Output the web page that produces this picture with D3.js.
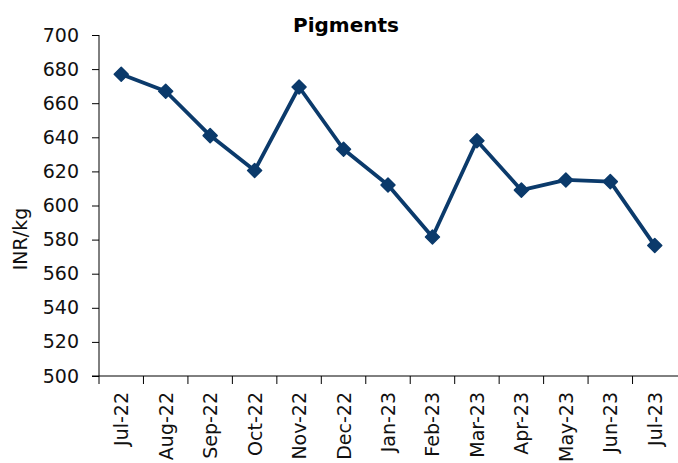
<!DOCTYPE html>
<html><head><meta charset="utf-8">
<script src="https://cdn.jsdelivr.net/npm/d3@7"></script>
<style>html,body{margin:0;padding:0;background:#fff;}svg{display:block;}</style>
</head><body>
<script>
const categories = ["Jul-22","Aug-22","Sep-22","Oct-22","Nov-22","Dec-22","Jan-23","Feb-23","Mar-23","Apr-23","May-23","Jun-23","Jul-23"];
const values = [677, 667, 641, 620.5, 669.5, 633, 612, 581.5, 638, 609, 615, 614, 576.5];
const yTicks = [500,520,540,560,580,600,620,640,660,680,700];
const title = "Pigments";
const yLabel = "INR/kg";

const W = 678, H = 463;
const m = {left: 99, right: 1, top: 35, bottom: 87};
const font = "'DejaVu Sans', sans-serif";
const color = "#0b3a6b";

const svg = d3.select("body").append("svg").attr("width", W).attr("height", H);

const x = d3.scaleBand().domain(categories).range([m.left, W - m.right]);
const y = d3.scaleLinear().domain([500, 700]).range([H - m.bottom, m.top]);

// y axis
const ya = svg.append("g").attr("transform", `translate(${m.left},0)`)
  .call(d3.axisLeft(y).tickValues(yTicks).tickSize(7).tickPadding(13));
ya.selectAll("path,line").attr("stroke", "#000").attr("stroke-width", 1);
ya.select(".domain").attr("d", `M0,${y(700)}V${y(500)}`);
ya.selectAll("text").attr("font-family", font).attr("font-size", 19).attr("fill", "#111");

// x axis with ticks at band boundaries
const xa = svg.append("g").attr("transform", `translate(0,${y(500)})`);
xa.append("line").attr("x1", m.left - 7).attr("x2", W).attr("y1", 0).attr("y2", 0).attr("stroke", "#000");
const bounds = categories.map(c => x(c));
xa.selectAll("line.tk").data(bounds).enter().append("line").attr("class","tk")
  .attr("x1", d => d).attr("x2", d => d).attr("y1", 0).attr("y2", 8).attr("stroke", "#000");
xa.selectAll("text").data(categories).enter().append("text")
  .attr("transform", d => `translate(${x(d) + x.bandwidth()/2 + 7},16) rotate(-90)`)
  .attr("text-anchor", "end")
  .attr("font-family", font).attr("font-size", 19).attr("fill", "#111")
  .text(d => d);

// line
const line = d3.line().x((d,i) => x(categories[i]) + x.bandwidth()/2).y(d => y(d));
svg.append("path").datum(values).attr("d", line).attr("fill", "none")
  .attr("stroke", color).attr("stroke-width", 3.8).attr("stroke-linejoin", "round");
svg.selectAll("path.mk").data(values).enter().append("path").attr("class","mk")
  .attr("d", d3.symbol().type(d3.symbolDiamond2).size(125))
  .attr("transform", (d,i) => `translate(${x(categories[i]) + x.bandwidth()/2},${y(d)})`)
  .attr("fill", color).attr("stroke", color).attr("stroke-width", 1.5).attr("stroke-linejoin","round");

// title
svg.append("text").attr("x", 346).attr("y", 32).attr("text-anchor", "middle")
  .attr("font-family", font).attr("font-weight", "bold").attr("font-size", 20).attr("fill", "#000")
  .text(title);

// y label
svg.append("text").attr("transform", "translate(27,239) rotate(-90)").attr("text-anchor", "middle")
  .attr("font-family", font).attr("font-size", 19).attr("fill", "#111").text(yLabel);
</script>
</body></html>
